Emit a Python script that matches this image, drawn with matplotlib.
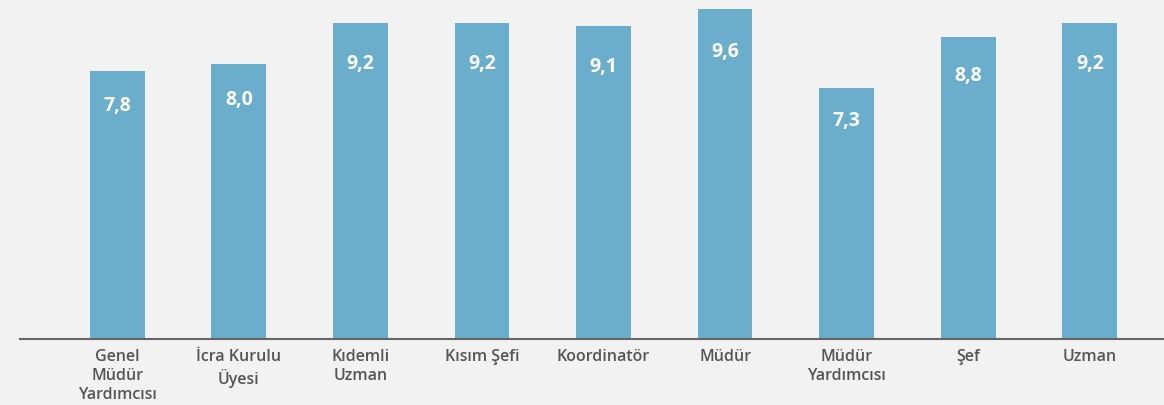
import numpy as np
import matplotlib.pyplot as plt

categories = ["Genel\nMüdür\nYardımcısı", "İcra Kurulu\nÜyesi", "Kıdemli\nUzman", "Kısım Şefi",
              "Koordinatör", "Müdür", "Müdür\nYardımcısı", "Şef", "Uzman"]
values = [7.8, 8.0, 9.2, 9.2, 9.1, 9.6, 7.3, 8.8, 9.2]
labels = ["7,8", "8,0", "9,2", "9,2", "9,1", "9,6", "7,3", "8,8", "9,2"]

bg = "#f2f2f2"
fig = plt.figure(figsize=(11.64, 4.05), dpi=100, facecolor=bg)
ax = fig.add_axes([20/1164, 66/405, 1144/1164, 339/405], facecolor=bg)

x = np.arange(len(values))
ax.bar(x, values, width=0.45, color="#6aaecb", zorder=2)

for xi, v, lab in zip(x, values, labels):
    ax.text(xi, v * 0.87, lab, ha="center", va="center", color="white",
            fontsize=14, fontweight="bold", family="Open Sans")

ax.set_xlim(-0.80, 8.61)
ax.set_ylim(0, 9.87)
ax.set_xticks(x)
ax.set_xticklabels(categories, fontsize=11.5, color="#555555", fontweight="semibold",
                   family="Open Sans", linespacing=1.28)
ax.tick_params(axis="x", length=0, pad=7)
ax.set_yticks([])
for s in ["top", "right", "left"]:
    ax.spines[s].set_visible(False)
ax.spines["bottom"].set_color("#666666")
ax.spines["bottom"].set_linewidth(1.5)
ax.spines["bottom"].set_zorder(3)

fig.savefig("out.png", dpi=100, facecolor=bg)
